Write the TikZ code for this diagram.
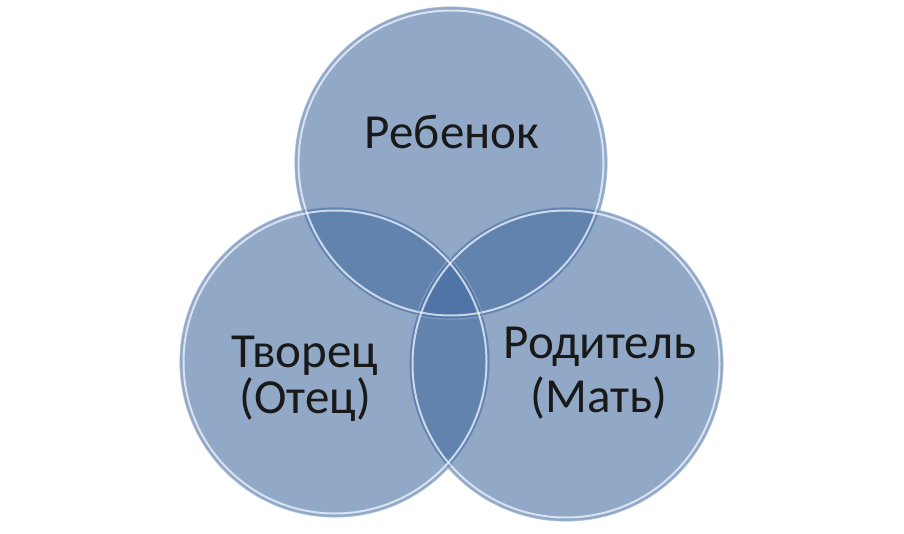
\documentclass[tikz,border=0pt]{standalone}
\usepackage{fontspec}
\setmainfont{Carlito}
\definecolor{vennbase}{RGB}{65,105,158}
\definecolor{rimlight}{RGB}{240,246,254}
\definecolor{rimedge}{RGB}{150,175,210}
\tikzset{
  venn/.style={fill=vennbase, fill opacity=0.58, draw=none},
  rimout/.style={draw=rimedge, draw opacity=0.6, line width=1.2pt},
  rimin/.style={draw=rimlight, draw opacity=0.75, line width=2pt},
  lbl/.style={font=\fontsize{49}{54}\selectfont, text=black!90, anchor=base, inner sep=0pt}
}
\begin{document}
\begin{tikzpicture}[x=1pt,y=-1pt]
\useasboundingbox (0,0) rectangle (904,533);
% centres
\coordinate (ct) at (451,163);
\coordinate (cl) at (335,362);
\coordinate (cr) at (566,364);
% fills
\fill[venn] (ct) circle (156);
\fill[venn] (cr) circle (157);
\fill[venn] (cl) circle (155);
% rims
\foreach \c/\r in {ct/156, cr/157, cl/155}{
  \draw[rimout] (\c) circle (\r);
  \draw[rimin] (\c) circle (\r-3.5);
}
% labels
\node[lbl] (t1) at (452,148) {Ребенок};
\node[lbl] (t2a) at (305,367) {Творец};
\node[lbl] (t2b) at (305,413) {(Отец)};
\node[lbl] (t3a) at (600,358) {Родитель};
\node[lbl] (t3b) at (599,412) {(Мать)};
\end{tikzpicture}
\end{document}
